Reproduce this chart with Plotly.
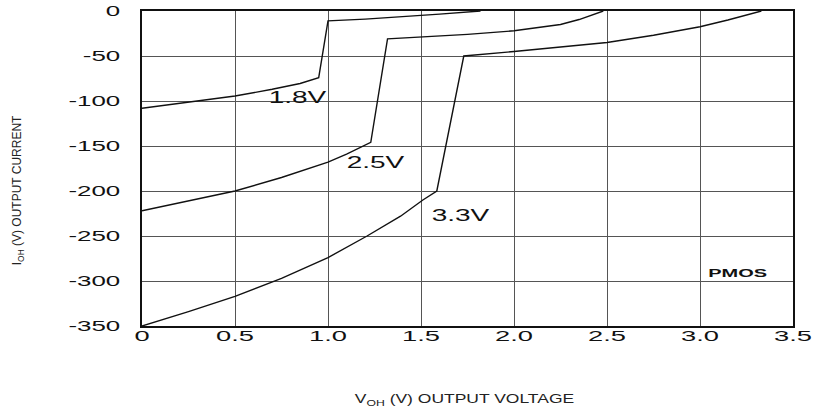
import plotly.graph_objects as go

# ---- data ----
v18_x = [0, 0.25, 0.5, 0.7, 0.85, 0.95, 1.0, 1.2, 1.4, 1.6, 1.82]
v18_y = [-108, -101.5, -94.5, -87, -80.5, -74, -11, -9, -6.5, -3.5, 0]

v25_x = [0, 0.25, 0.5, 0.75, 1.0, 1.1, 1.23, 1.32, 1.5, 1.75, 2.0, 2.25, 2.35, 2.48]
v25_y = [-222, -211, -200, -185, -168, -159, -146, -31, -29, -26, -22, -15, -9.5, 0]

v33_x = [0, 0.25, 0.5, 0.75, 1.0, 1.21, 1.39, 1.51, 1.585, 1.73, 2.0, 2.5, 2.75, 3.0, 3.15, 3.33]
v33_y = [-350, -334, -317, -297, -274, -250, -228, -210, -200, -50, -45, -35, -27, -17.5, -10, 0]

curve_labels = ["1.8V", "2.5V", "3.3V"]
label_x = [0.835, 1.254, 1.71]
label_y = [-95.6, -167.8, -227.4]

x_ticks = [0, 0.5, 1.0, 1.5, 2.0, 2.5, 3.0, 3.5]
x_tick_labels = ["0", "0.5", "1.0", "1.5", "2.0", "2.5", "3.0", "3.5"]
y_ticks = [0, -50, -100, -150, -200, -250, -300, -350]
y_tick_labels = ["0", "-50", "-100", "-150", "-200", "-250", "-300", "-350"]

FONT = "Liberation Sans, Arial, Helvetica"

fig = go.Figure()
for xs, ys in [(v18_x, v18_y), (v25_x, v25_y), (v33_x, v33_y)]:
    fig.add_trace(go.Scatter(x=xs, y=ys, mode="lines",
                             line=dict(color="#111111", width=1.4),
                             showlegend=False, hoverinfo="skip"))

annotations = []
for t, ax_, ay_ in zip(curve_labels, label_x, label_y):
    annotations.append(dict(x=ax_, y=ay_, xref="x", yref="y", text=t, showarrow=False,
                            font=dict(family=FONT, size=16, color="#111111")))
annotations.append(dict(x=3.205, y=-292, xref="x", yref="y", text="<b>PMOS</b>", showarrow=False,
                        font=dict(family=FONT, size=10, color="#111111")))
annotations.append(dict(x=-0.19, y=0.432, xref="paper", yref="paper",
                        xanchor="center", yanchor="middle",
                        text="I<sub>OH</sub> (V) OUTPUT CURRENT", textangle=-90, showarrow=False,
                        font=dict(family="Liberation Sans Narrow, Liberation Sans, Arial", size=12, color="#222222")))
annotations.append(dict(x=0.496, y=-0.235, xref="paper", yref="paper",
                        xanchor="center", yanchor="middle",
                        text="V<sub>OH</sub> (V) OUTPUT VOLTAGE", showarrow=False,
                        font=dict(family=FONT, size=12.5, color="#222222")))

fig.update_layout(
    width=822, height=407,
    margin=dict(l=142, r=29, t=11, b=81, autoexpand=False),
    paper_bgcolor="white", plot_bgcolor="white",
    annotations=annotations,
    xaxis=dict(range=[0, 3.5], tickvals=x_ticks, ticktext=x_tick_labels,
               showgrid=True, gridcolor="#555555", gridwidth=1,
               showline=True, linecolor="#111111", linewidth=2, mirror=True,
               ticks="", zeroline=False, automargin=False, ticklabelstandoff=-4,
               tickfont=dict(family=FONT, size=14, color="#111111")),
    yaxis=dict(range=[-350, 0], tickvals=y_ticks, ticktext=y_tick_labels,
               showgrid=True, gridcolor="#555555", gridwidth=1,
               showline=True, linecolor="#111111", linewidth=2, mirror=True,
               ticks="outside", ticklen=17, tickcolor="rgba(0,0,0,0)", zeroline=False,
               automargin=False,
               tickfont=dict(family=FONT, size=14, color="#111111")),
)

post = """
document.body.style.margin = '0';
var gd = document.getElementById('{plot_id}');
function stretch(t, s){
  var x = parseFloat(t.getAttribute('x') || 0), y = parseFloat(t.getAttribute('y') || 0);
  var tr = t.getAttribute('transform') || '';
  t.setAttribute('transform', tr + ' translate(' + x + ',' + y + ') scale(' + s + ',1) translate(' + (-x) + ',' + (-y) + ')');
}
gd.querySelectorAll('.xtick text').forEach(function(t){ stretch(t, 1.95); });
gd.querySelectorAll('.ytick text').forEach(function(t){ stretch(t, 1.85); });
var ann = gd.querySelectorAll('.annotation-text');
var sc = [1.75, 1.75, 1.75, 2.0, 1.0, 1.4];
ann.forEach(function(t, i){ if (sc[i] && sc[i] !== 1.0) stretch(t, sc[i]); });
"""

fig.write_html("out.html", post_script=post, config={"displayModeBar": False})
